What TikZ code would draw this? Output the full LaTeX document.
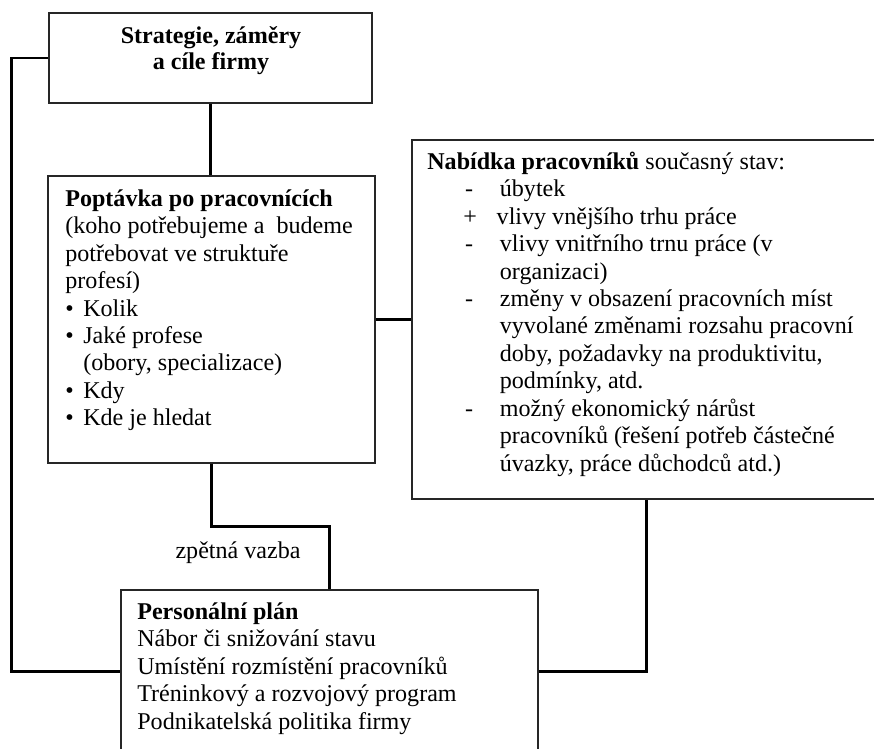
\documentclass[tikz,border=0pt]{standalone}
\usepackage{fontspec}
\setmainfont{Liberation Serif}
\usepackage{tikz}
\usetikzlibrary{positioning}
\newcommand{\bodyfont}{\fontsize{13.7}{15.6}\selectfont\lineskiplimit=-10pt\relax}
\newcommand{\headfont}{\bfseries\fontsize{13.7}{14.8}\selectfont\lineskiplimit=-10pt\relax}

\begin{document}
\begin{tikzpicture}[x=0.02cm,y=-0.02cm,
  box/.style={draw=black!85,line width=0.8pt,inner sep=0pt},
  txt/.style={anchor=north west,inner sep=0pt,align=left,font=\bodyfont},
  link/.style={line width=1.7pt}]
\useasboundingbox (0,0) rectangle (874,749);
\clip (0,0) rectangle (874,749);
% ---------- boxes ----------
\node[box,minimum width=6.46cm,minimum height=1.8cm] (strat) at (210.5,58) {};
\node[box,minimum width=6.54cm,minimum height=5.74cm] (poptavka) at (211.5,319.5) {};
\node[box,minimum width=9.36cm,minimum height=7.18cm] (nabidka) at (646,319.5) {};
\node[box,minimum width=8.34cm,minimum height=3.24cm] (plan) at (329.5,671) {};
% ---------- texts ----------
\node[txt,anchor=center,align=center,font=\headfont] (strattxt) at (211,51)
  {Strategie, záměry\\a cíle firmy};
\node[txt] (poptxt) at (65,187) {\strut\textbf{Poptávka po pracovnících}\\
  (koho potřebujeme a\ \ budeme\\
  potřebovat ve struktuře\\
  profesí)\\
  \makebox[10.2pt][l]{\textbullet}Kolik\\
  \makebox[10.2pt][l]{\textbullet}Jaké profese\\
  \hspace*{10.2pt}(obory, specializace)\\
  \makebox[10.2pt][l]{\textbullet}Kdy\\
  \makebox[10.2pt][l]{\textbullet}Kde je hledat};
\node[txt] (nabtxt) at (427,150) {\strut\textbf{Nabídka pracovníků} současný stav:\\
  \hspace*{21.5pt}\makebox[19.8pt][l]{-}úbytek\\
  \hspace*{20.5pt}\makebox[19pt][l]{+}vlivy vnějšího trhu práce\\
  \hspace*{21.5pt}\makebox[19.8pt][l]{-}vlivy vnitřního trnu práce (v\\
  \hspace*{41.3pt}organizaci)\\
  \hspace*{21.5pt}\makebox[19.8pt][l]{-}změny v obsazení pracovních míst\\
  \hspace*{41.3pt}vyvolané změnami rozsahu pracovní\\
  \hspace*{41.3pt}doby, požadavky na produktivitu,\\
  \hspace*{41.3pt}podmínky, atd.\\
  \hspace*{21.5pt}\makebox[19.8pt][l]{-}možný ekonomický nárůst\\
  \hspace*{41.3pt}pracovníků (řešení potřeb částečné\\
  \hspace*{41.3pt}úvazky, práce důchodců atd.)};
\node[txt] (plantxt) at (137,600) {\strut\textbf{Personální plán}\\
  Nábor či snižování stavu\\
  Umístění rozmístění pracovníků\\
  Tréninkový a rozvojový program\\
  Podnikatelská politika firmy};
\node[txt,anchor=center] (fb) at (238,553) {zpětná vazba};
% ---------- connectors ----------
\draw[link] (strat.south) -- (strat.south |- poptavka.north);
\draw[link] (strat.west) -- ++(-37,0) |- (plan.west);
\draw[link] (poptavka.east) -- (nabidka.west);
\draw[link] (poptavka.south) -- ++(0,63) -| (plan.north);
\draw[link] (plan.east) -| (nabidka.south);
\end{tikzpicture}
\end{document}
